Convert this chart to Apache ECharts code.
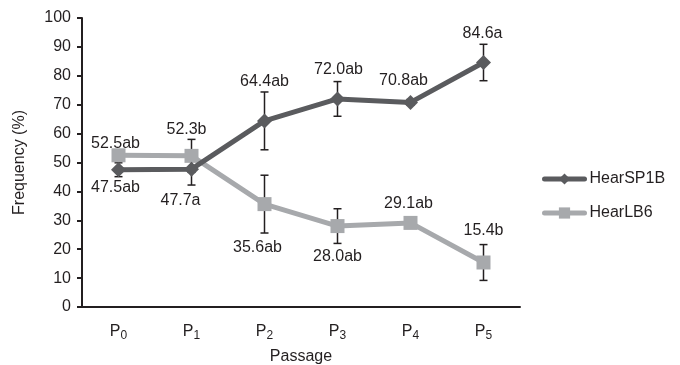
<!DOCTYPE html>
<html>
<head>
<meta charset="utf-8">
<script src="https://cdn.jsdelivr.net/npm/echarts@6/dist/echarts.min.js"></script>
<style>
  html, body { margin: 0; padding: 0; background: #fff; }
  #chart { width: 680px; height: 365px; }
</style>
</head>
<body>
<div id="chart"></div>
<script>
const passages = ["0", "1", "2", "3", "4", "5"];
const sp1bValues = [47.5, 47.7, 64.4, 72.0, 70.8, 84.6];
const sp1bLetters = ["ab", "a", "ab", "ab", "ab", "a"];
const sp1bErr = [2.4, 5.5, 10.0, 6.0, 1.0, 6.3];
const lb6Values = [52.5, 52.3, 35.6, 28.0, 29.1, 15.4];
const lb6Letters = ["ab", "b", "ab", "ab", "ab", "b"];
const lb6Err = [1.0, 5.7, 10.0, 6.0, 1.0, 6.2];
const yTicks = [0, 10, 20, 30, 40, 50, 60, 70, 80, 90, 100];

// label placement (px offsets from the marker)
const sp1bLabelOffset = [[-3, 18], [-11, 31], [0, -39], [1, -29], [-7, -22], [-1, -29]];
const lb6LabelOffset = [[-3, -12], [-5, -26], [-7, 43], [0, 31], [-2, -19], [0, -32]];

const dark = "#5a5b5e";
const light = "#a7a9ac";
const ink = "#231f20";
const font = "Liberation Sans";
const fs = 16;

const chart = echarts.init(document.getElementById("chart"));

function pointData(values, letters, offsets) {
  return values.map((v, i) => ({
    value: v,
    label: {
      show: true,
      position: "inside",
      offset: offsets[i],
      formatter: v.toFixed(1) + letters[i],
    },
  }));
}

function errData(values, errs) {
  return values.map((v, i) => [i, v - errs[i], v + errs[i]]);
}

function renderErr(params, api) {
  const lo = api.coord([api.value(0), api.value(1)]);
  const hi = api.coord([api.value(0), api.value(2)]);
  const cap = 4;
  const style = { stroke: ink, lineWidth: 1.5 };
  return {
    type: "group",
    children: [
      { type: "line", shape: { x1: lo[0], y1: lo[1], x2: hi[0], y2: hi[1] }, style },
      { type: "line", shape: { x1: lo[0] - cap, y1: lo[1], x2: lo[0] + cap, y2: lo[1] }, style },
      { type: "line", shape: { x1: hi[0] - cap, y1: hi[1], x2: hi[0] + cap, y2: hi[1] }, style },
    ],
  };
}

const options = {
  animation: false,
  textStyle: { fontFamily: font, color: ink },
  grid: { left: 82, right: 160, top: 18, bottom: 58, outerBoundsMode: "none" },
  legend: {
    orient: "vertical",
    left: 537,
    top: 166,
    itemWidth: 40,
    itemHeight: 14,
    itemGap: 18,
    lineStyle: { width: 5, cap: "round" },
    textStyle: { fontFamily: font, fontSize: fs, color: ink },
    data: ["HearSP1B", "HearLB6"],
  },
  xAxis: {
    type: "category",
    data: passages,
    name: "Passage",
    nameLocation: "middle",
    nameGap: 42,
    nameTextStyle: { fontSize: fs, color: ink },
    axisLine: { lineStyle: { color: ink, width: 2 } },
    axisTick: { length: 5, lineStyle: { color: ink, width: 2 } },
    axisLabel: {
      margin: 14,
      formatter: (d) => "{p|P}{s|" + d + "}",
      rich: {
        p: { fontSize: fs, color: ink, fontFamily: font },
        s: { fontSize: 12, color: ink, fontFamily: font, padding: [9, 0, 0, 0] },
      },
    },
  },
  yAxis: {
    type: "value",
    min: yTicks[0],
    max: yTicks[yTicks.length - 1],
    interval: 10,
    name: "Frequency (%)",
    nameLocation: "middle",
    nameGap: 54,
    nameTextStyle: { fontSize: fs, color: ink },
    axisLine: { show: true, lineStyle: { color: ink, width: 2 } },
    axisTick: { show: true, length: 5, lineStyle: { color: ink, width: 2 } },
    axisLabel: { margin: 11, fontSize: fs, color: ink },
    splitLine: { show: false },
  },
  series: [
    {
      type: "custom",
      renderItem: renderErr,
      data: errData(sp1bValues, sp1bErr),
      z: 1,
      silent: true,
    },
    {
      type: "custom",
      renderItem: renderErr,
      data: errData(lb6Values, lb6Err),
      z: 1,
      silent: true,
    },
    {
      name: "HearSP1B",
      type: "line",
      data: pointData(sp1bValues, sp1bLetters, sp1bLabelOffset),
      symbol: "diamond",
      symbolSize: 15,
      lineStyle: { color: dark, width: 5 },
      itemStyle: { color: dark },
      label: { color: ink, fontSize: fs, fontFamily: font },
      z: 3,
    },
    {
      name: "HearLB6",
      type: "line",
      data: pointData(lb6Values, lb6Letters, lb6LabelOffset),
      symbol: "rect",
      symbolSize: 14,
      lineStyle: { color: light, width: 5 },
      itemStyle: { color: light },
      label: { color: ink, fontSize: fs, fontFamily: font },
      z: 2,
    },
  ],
};

chart.setOption(options);
</script>
</body>
</html>
